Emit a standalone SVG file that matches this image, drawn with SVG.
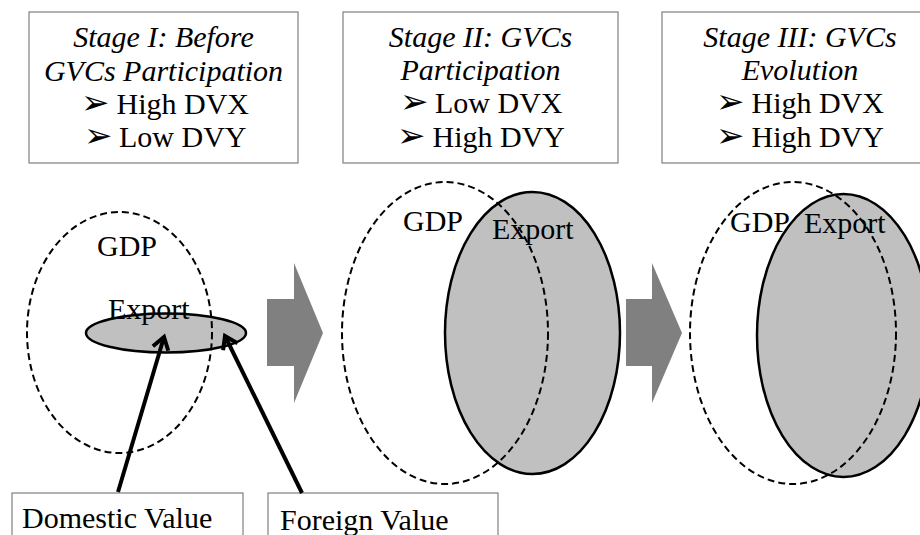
<svg xmlns="http://www.w3.org/2000/svg" width="920" height="535" viewBox="0 0 920 535">
<style>
.box{fill:#fff;stroke:#7f7f7f;stroke-width:1.2}
.t{font-family:'Times New Roman','Liberation Serif',Tinos,Times,serif;font-size:30px;fill:#000}
.i{font-style:italic}
.b{font-size:34px}
.gdp{fill:none;stroke:#000;stroke-width:2;stroke-dasharray:7,4}
.exp{fill:#c0c0c0;stroke:#000;stroke-width:2.5}
.blk{fill:#808080}
.con{fill:none;stroke:#000;stroke-width:4}
</style>
<defs>
<marker id="ah" markerUnits="userSpaceOnUse" markerWidth="30" markerHeight="30" viewBox="-15 -15 30 30" refX="0" refY="0" orient="auto">
<path d="M-12,-8 L0,0 L-12,8" fill="none" stroke="#000" stroke-width="4"/>
</marker>
</defs>
<g id="stage1-header">
<rect class="box" x="29" y="12" width="269" height="151"/>
<text class="t i" x="163.5" y="47" text-anchor="middle">Stage I: Before</text>
<text class="t i" x="163.5" y="81" text-anchor="middle">GVCs Participation</text>
<text class="t" x="165" y="114" text-anchor="middle"><tspan class="b">➢</tspan> High DVX</text>
<text class="t" x="165" y="147" text-anchor="middle"><tspan class="b">➢</tspan> Low DVY</text>
</g>
<g id="stage2-header">
<rect class="box" x="343" y="12" width="275" height="151"/>
<text class="t i" x="480.5" y="47" text-anchor="middle">Stage II: GVCs</text>
<text class="t i" x="480.5" y="80" text-anchor="middle">Participation</text>
<text class="t" x="481" y="113" text-anchor="middle"><tspan class="b">➢</tspan> Low DVX</text>
<text class="t" x="481" y="147" text-anchor="middle"><tspan class="b">➢</tspan> High DVY</text>
</g>
<g id="stage3-header">
<rect class="box" x="662" y="12" width="276" height="151"/>
<text class="t i" x="800" y="47" text-anchor="middle">Stage III: GVCs</text>
<text class="t i" x="800" y="80" text-anchor="middle">Evolution</text>
<text class="t" x="800" y="113" text-anchor="middle"><tspan class="b">➢</tspan> High DVX</text>
<text class="t" x="800" y="147" text-anchor="middle"><tspan class="b">➢</tspan> High DVY</text>
</g>
<g id="stage1-diagram">
<ellipse class="exp" cx="166" cy="333" rx="80" ry="19.5"/>
<ellipse class="gdp" cx="119.5" cy="332.5" rx="92.5" ry="120.5"/>
<text class="t" x="97" y="256">GDP</text>
<text class="t" x="108" y="319">Export</text>
</g>
<g id="arrow1">
<path class="blk" d="M267,299 H294 V263 L323,333 L294,403 V366 H267 Z"/>
</g>
<g id="stage2-diagram">
<ellipse class="exp" cx="532.5" cy="333" rx="87.5" ry="141"/>
<ellipse class="gdp" cx="445" cy="333" rx="103" ry="151"/>
<text class="t" x="403" y="231">GDP</text>
<text class="t" x="492" y="239">Export</text>
</g>
<g id="arrow2">
<path class="blk" d="M626,299 H652 V263 L682,333 L652,403 V366 H626 Z"/>
</g>
<g id="stage3-diagram">
<ellipse class="exp" cx="843.5" cy="335.5" rx="86.5" ry="141.5"/>
<ellipse class="gdp" cx="793" cy="333" rx="103" ry="151"/>
<text class="t" x="730" y="232">GDP</text>
<text class="t" x="804" y="233">Export</text>
</g>
<g id="domestic-value">
<rect class="box" x="12" y="493" width="231" height="50"/>
<text class="t" x="22" y="528">Domestic Value</text>
</g>
<g id="foreign-value">
<rect class="box" x="268" y="493" width="230" height="50"/>
<text class="t" x="280" y="530">Foreign Value</text>
</g>
<g id="connectors">
<line class="con" x1="118" y1="492" x2="164" y2="337" marker-end="url(#ah)"/>
<line class="con" x1="302" y1="493" x2="225" y2="336" marker-end="url(#ah)"/>
</g>
</svg>
